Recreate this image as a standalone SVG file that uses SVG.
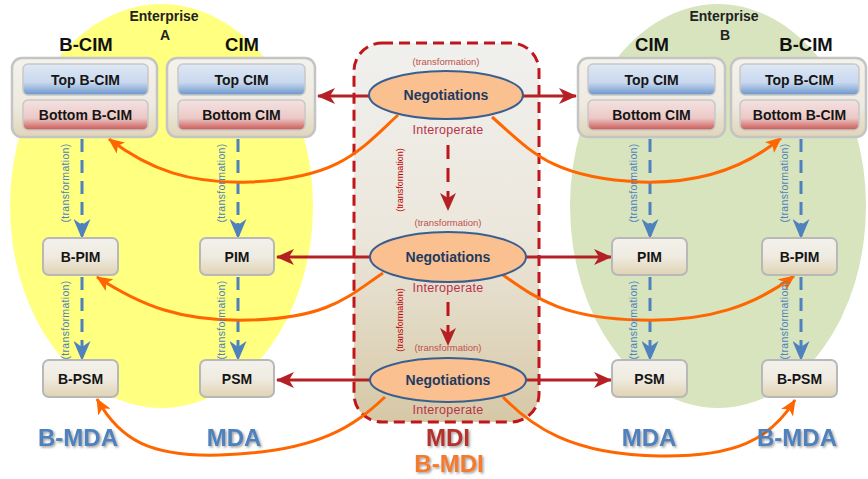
<svg xmlns="http://www.w3.org/2000/svg" width="868" height="479" viewBox="0 0 868 479">
<style>
text{font-family:"Liberation Sans",Arial,sans-serif}
.hdr{font-size:18.5px;font-weight:bold;fill:#111;text-anchor:middle}
.ent{font-size:14px;font-weight:bold;fill:#222;text-anchor:middle}
.bx{font-size:14px;font-weight:bold;fill:#151515;text-anchor:middle}
.neg{font-size:14px;font-weight:bold;fill:#1f3a60;text-anchor:middle}
.intp{font-size:12.5px;fill:#b8334a;text-anchor:middle;letter-spacing:0.3px}
.trs{font-size:9.5px;fill:#c0504d;text-anchor:middle}
.trb{font-size:10.5px;fill:#4f81bd;text-anchor:middle;letter-spacing:0.3px}
.trr{font-size:9px;fill:#c00000;text-anchor:middle}
.mda{font-size:24px;font-weight:bold;fill:#4f81bd;text-anchor:middle;filter:url(#sh)}
.mdi{font-size:24px;font-weight:bold;fill:#b5302b;text-anchor:middle;filter:url(#sh)}
.bmdi{font-size:24px;font-weight:bold;fill:#f57a2a;text-anchor:middle;filter:url(#sh)}
.outer{fill:url(#gOuter);stroke:#c4c4c4;stroke-width:2.5}
.small{fill:url(#gSmall);stroke:#b8b8b8;stroke-width:2}
.top{fill:url(#gTop);stroke:#c8c8c8;stroke-width:1.5}
.bot{fill:url(#gBot);stroke:#c8c8c8;stroke-width:1.5}
.ell{fill:#fac090;stroke:#3a5f8f;stroke-width:2}
.blue{fill:none;stroke:#4f81bd;stroke-width:3;stroke-dasharray:13 8;marker-end:url(#mBlue)}
.redv{fill:none;stroke:#c0141b;stroke-width:3;stroke-dasharray:14 9;marker-end:url(#mRed)}
.redh{fill:none;stroke:#b52024;stroke-width:3;marker-start:url(#mRed);marker-end:url(#mRed)}
.org{fill:none;stroke:#ff6600;stroke-width:3;marker-end:url(#mOrg)}
</style>
<defs>
<linearGradient id="gOuter" x1="0" y1="0" x2="0" y2="1">
<stop offset="0" stop-color="#f4f2ec"/><stop offset="0.6" stop-color="#eeeae0"/><stop offset="1" stop-color="#e0d5b8"/>
</linearGradient>
<linearGradient id="gSmall" x1="0" y1="0" x2="0" y2="1">
<stop offset="0" stop-color="#f3f1ec"/><stop offset="0.5" stop-color="#efebe1"/><stop offset="1" stop-color="#e0d3b3"/>
</linearGradient>
<linearGradient id="gTop" x1="0" y1="0" x2="0" y2="1">
<stop offset="0" stop-color="#dfe8f4"/><stop offset="0.6" stop-color="#c8d8ee"/><stop offset="1" stop-color="#6a95cc"/>
</linearGradient>
<linearGradient id="gBot" x1="0" y1="0" x2="0" y2="1">
<stop offset="0" stop-color="#f4e2e1"/><stop offset="0.6" stop-color="#ebc9c7"/><stop offset="1" stop-color="#cc5755"/>
</linearGradient>
<linearGradient id="gMdi" x1="0" y1="0" x2="0" y2="1">
<stop offset="0" stop-color="#f0f0ee"/><stop offset="0.5" stop-color="#ece7dc"/><stop offset="1" stop-color="#d6c8a6"/>
</linearGradient>
<filter id="sh" x="-20%" y="-30%" width="140%" height="160%">
<feDropShadow dx="1.5" dy="1.5" stdDeviation="1" flood-color="#555" flood-opacity="0.55"/>
</filter>
<marker id="mRed" viewBox="0 0 18 16" markerUnits="userSpaceOnUse" markerWidth="18" markerHeight="16" refX="17" refY="8" orient="auto-start-reverse">
<path d="M0,0 L18,8 L0,16 L5,8 z" fill="#b52024"/>
</marker>
<marker id="mBlue" viewBox="0 0 20 17" markerUnits="userSpaceOnUse" markerWidth="20" markerHeight="17" refX="19" refY="8.5" orient="auto">
<path d="M0,0 L20,8.5 L0,17 L6,8.5 z" fill="#4f81bd"/>
</marker>
<marker id="mOrg" viewBox="0 0 16 14" markerUnits="userSpaceOnUse" markerWidth="16" markerHeight="14" refX="15" refY="7" orient="auto">
<path d="M0,0 L16,7 L0,14 L4,7 z" fill="#ff6600"/>
</marker>
</defs>

<g id="enterprise-a">
<ellipse cx="161.5" cy="206" rx="151.5" ry="202" fill="#ffff80"/>
<text class="ent" x="164" y="21">Enterprise</text>
<text class="ent" x="165" y="40">A</text>
</g>
<g id="enterprise-b">
<ellipse cx="718" cy="206" rx="148" ry="202" fill="#d7e4bd"/>
<text class="ent" x="724" y="21">Enterprise</text>
<text class="ent" x="725" y="40">B</text>
</g>

<g id="mdi-frame">
<rect x="354" y="43" width="185" height="379" rx="28" fill="url(#gMdi)" stroke="#c0161b" stroke-width="3" stroke-dasharray="11 6"/>
</g>

<g id="connectors">
<line class="redh" x1="318" y1="96" x2="576" y2="96"/>
<line class="redh" x1="277" y1="257" x2="611" y2="257"/>
<line class="redh" x1="277" y1="380" x2="611" y2="380"/>
<line class="redv" x1="448" y1="145" x2="448" y2="210"/>
<line class="redv" x1="448" y1="302" x2="448" y2="345"/>
<line class="blue" x1="82" y1="139" x2="82" y2="238"/>
<line class="blue" x1="238" y1="139" x2="238" y2="238"/>
<line class="blue" x1="650" y1="139" x2="650" y2="238"/>
<line class="blue" x1="801" y1="139" x2="801" y2="238"/>
<line class="blue" x1="82" y1="277" x2="82" y2="360"/>
<line class="blue" x1="238" y1="277" x2="238" y2="360"/>
<line class="blue" x1="650" y1="277" x2="650" y2="360"/>
<line class="blue" x1="801" y1="277" x2="801" y2="360"/>
<path class="org" d="M398,115 C360,150 340,178 250,182 C190,184 150,170 109,139"/>
<path class="org" d="M492,117 C530,150 550,178 640,182 C700,184 745,168 781,138"/>
<path class="org" d="M383,273 C350,295 330,318 250,320 C180,322 140,305 97,277"/>
<path class="org" d="M503,275 C535,297 560,318 640,320 C710,322 755,305 794,276"/>
<path class="org" d="M385,397 C355,425 320,452 220,455 C150,457 120,440 97,399"/>
<path class="org" d="M503,397 C530,425 570,455 660,456 C735,457 770,440 795,400"/>
<text class="trb" transform="translate(68.5,183) rotate(-90)">(transformation)</text>
<text class="trb" transform="translate(224.5,183) rotate(-90)">(transformation)</text>
<text class="trb" transform="translate(636.5,183) rotate(-90)">(transformation)</text>
<text class="trb" transform="translate(787.5,183) rotate(-90)">(transformation)</text>
<text class="trb" transform="translate(68.5,320) rotate(-90)">(transformation)</text>
<text class="trb" transform="translate(224.5,320) rotate(-90)">(transformation)</text>
<text class="trb" transform="translate(636.5,320) rotate(-90)">(transformation)</text>
<text class="trb" transform="translate(787.5,320) rotate(-90)">(transformation)</text>
<text class="trr" transform="translate(403,180) rotate(-90)">(transformation)</text>
<text class="trr" transform="translate(403,320) rotate(-90)">(transformation)</text>
</g>

<g id="a-bcim">
<text class="hdr" x="86" y="51">B-CIM</text>
<rect class="outer" x="12" y="58" width="145" height="79" rx="10"/>
<rect class="top" x="23" y="64" width="125" height="31" rx="5"/>
<rect class="bot" x="23" y="100" width="125" height="30" rx="5"/>
<text class="bx" x="85.5" y="85">Top B-CIM</text>
<text class="bx" x="85.5" y="120">Bottom B-CIM</text>
</g>
<g id="a-cim">
<text class="hdr" x="242" y="51">CIM</text>
<rect class="outer" x="167" y="58" width="148" height="79" rx="10"/>
<rect class="top" x="178" y="64" width="127" height="31" rx="5"/>
<rect class="bot" x="178" y="100" width="127" height="30" rx="5"/>
<text class="bx" x="241.5" y="85">Top CIM</text>
<text class="bx" x="241.5" y="120">Bottom CIM</text>
</g>
<g id="b-cim">
<text class="hdr" x="652" y="51">CIM</text>
<rect class="outer" x="578" y="58" width="147" height="79" rx="10"/>
<rect class="top" x="588" y="64" width="127" height="31" rx="5"/>
<rect class="bot" x="588" y="100" width="127" height="30" rx="5"/>
<text class="bx" x="651.5" y="85">Top CIM</text>
<text class="bx" x="651.5" y="120">Bottom CIM</text>
</g>
<g id="b-bcim">
<text class="hdr" x="806" y="51">B-CIM</text>
<rect class="outer" x="731" y="58" width="135" height="79" rx="10"/>
<rect class="top" x="740" y="64" width="119" height="31" rx="5"/>
<rect class="bot" x="740" y="100" width="119" height="30" rx="5"/>
<text class="bx" x="799.5" y="85">Top B-CIM</text>
<text class="bx" x="799.5" y="120">Bottom B-CIM</text>
</g>

<g id="a-bpim"><rect class="small" x="43" y="238" width="75" height="37" rx="6"/><text class="bx" x="80.5" y="262">B-PIM</text></g>
<g id="a-pim"><rect class="small" x="200" y="238" width="74" height="37" rx="6"/><text class="bx" x="237" y="262">PIM</text></g>
<g id="b-pim"><rect class="small" x="612" y="238" width="75" height="37" rx="6"/><text class="bx" x="649.5" y="262">PIM</text></g>
<g id="b-bpim"><rect class="small" x="762" y="238" width="75" height="37" rx="6"/><text class="bx" x="799.5" y="262">B-PIM</text></g>

<g id="a-bpsm"><rect class="small" x="43" y="360" width="75" height="37" rx="6"/><text class="bx" x="80.5" y="384">B-PSM</text></g>
<g id="a-psm"><rect class="small" x="200" y="360" width="74" height="37" rx="6"/><text class="bx" x="237" y="384">PSM</text></g>
<g id="b-psm"><rect class="small" x="612" y="360" width="75" height="37" rx="6"/><text class="bx" x="649.5" y="384">PSM</text></g>
<g id="b-bpsm"><rect class="small" x="762" y="360" width="75" height="37" rx="6"/><text class="bx" x="799.5" y="384">B-PSM</text></g>

<g id="neg-cim">
<text class="trs" x="446" y="65">(transformation)</text>
<ellipse class="ell" cx="446" cy="95" rx="77" ry="24"/>
<text class="neg" x="446" y="100">Negotiations</text>
<text class="intp" x="448" y="134">Interoperate</text>
</g>
<g id="neg-pim">
<text class="trs" x="448" y="226">(transformation)</text>
<ellipse class="ell" cx="448" cy="257" rx="78" ry="25"/>
<text class="neg" x="448" y="262">Negotiations</text>
<text class="intp" x="448" y="292">Interoperate</text>
</g>
<g id="neg-psm">
<text class="trs" x="448" y="351">(transformation)</text>
<ellipse class="ell" cx="448" cy="380" rx="78" ry="22"/>
<text class="neg" x="448" y="385">Negotiations</text>
<text class="intp" x="448" y="414">Interoperate</text>
</g>

<g id="labels">
<text class="mda" x="78" y="446">B-MDA</text>
<text class="mda" x="234" y="446">MDA</text>
<text class="mda" x="649" y="446">MDA</text>
<text class="mda" x="797" y="446">B-MDA</text>
<text class="mdi" x="448" y="446">MDI</text>
<text class="bmdi" x="449" y="472">B-MDI</text>
</g>
</svg>
